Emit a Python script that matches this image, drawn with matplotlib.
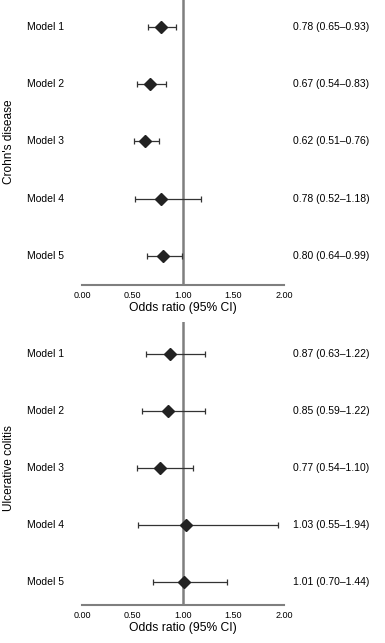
import matplotlib
matplotlib.use("Agg")
import matplotlib.pyplot as plt

models = ["Model 1", "Model 2", "Model 3", "Model 4", "Model 5"]

# Crohn's disease
cd_or = [0.78, 0.67, 0.62, 0.78, 0.80]
cd_lo = [0.65, 0.54, 0.51, 0.52, 0.64]
cd_hi = [0.93, 0.83, 0.76, 1.18, 0.99]

# Ulcerative colitis
uc_or = [0.87, 0.85, 0.77, 1.03, 1.01]
uc_lo = [0.63, 0.59, 0.54, 0.55, 0.70]
uc_hi = [1.22, 1.22, 1.10, 1.94, 1.44]

xticks = [0.0, 0.5, 1.0, 1.5, 2.0]

W, H = 385, 643
fig = plt.figure(figsize=(W / 100, H / 100), dpi=100)
plt.rcParams['font.family'] = ['Liberation Sans', 'DejaVu Sans']

def panel(rect, ylim, ors, lo, hi, title, ycenter):
    ax = fig.add_axes(rect)
    ys = list(range(len(models)))
    ax.axvline(1.0, color='#7f7f7f', lw=1.8, zorder=1)
    err = [[o - l for o, l in zip(ors, lo)], [h - o for o, h in zip(ors, hi)]]
    ax.errorbar(ors, ys, xerr=err, fmt='D', color='#222222', ms=5.8,
                ecolor='#333333', elinewidth=0.9, capsize=2.2, capthick=0.9,
                zorder=3)
    for y, name, o, l, h in zip(ys, models, ors, lo, hi):
        ax.text(-0.545, y, name, ha='left', va='center', fontsize=7.5,
                clip_on=False)
        ax.text(2.089, y, "%.2f (%.2f\u2013%.2f)" % (o, l, h), ha='left',
                va='center', fontsize=7.5, clip_on=False)
    ax.set_xlim(0, 2)
    ax.set_ylim(*ylim)
    ax.set_xticks(xticks)
    ax.set_xticklabels(["%.2f" % t for t in xticks], fontsize=6.5)
    ax.tick_params(axis='x', length=0, pad=4)
    ax.set_yticks([])
    for s in ('left', 'right', 'top'):
        ax.spines[s].set_visible(False)
    ax.spines['bottom'].set_color('#7f7f7f')
    ax.spines['bottom'].set_linewidth(1.5)
    ax.patch.set_alpha(0)
    ax.set_xlabel("Odds ratio (95% CI)", fontsize=8.7, labelpad=2)
    fig.text(9 / W, ycenter, title, rotation=90, ha='center', va='center',
             fontsize=8.6)
    return ax

left = 82 / W
width = 202 / W
panel([left, 1 - 285 / H, width, 285 / H], (4.51, -0.47),
      cd_or, cd_lo, cd_hi, "Crohn's disease", 1 - 142 / H)
panel([left, 1 - 605 / H, width, (605 - 322) / H], (4.40, -0.56),
      uc_or, uc_lo, uc_hi, "Ulcerative colitis", 1 - 468 / H)

fig.savefig("out.png", dpi=100)
